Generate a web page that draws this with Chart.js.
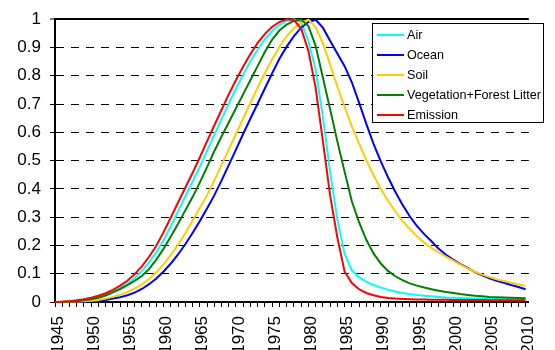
<!DOCTYPE html>
<html>
<head>
<meta charset="utf-8">
<script src="https://cdn.jsdelivr.net/npm/chart.js@4/dist/chart.umd.min.js"></script>
<style>
  html, body { margin: 0; padding: 0; background: #fff; }
  #wrap { position: relative; width: 555px; height: 350px; overflow: hidden; }
  #chart { display: block; }
  #legend {
    position: absolute; left: 372px; top: 23px; width: 172px; height: 100px;
    background: #fff; border: 1px solid #000; box-sizing: border-box;
    font-family: "Liberation Sans", Arial, sans-serif; font-size: 12.6px; color: #000;
  }
  #legend .row { position: absolute; left: 4px; height: 20px; display: flex; align-items: center; white-space: nowrap; }
  #legend .swatch { width: 27px; height: 2px; margin-right: 3px; }
</style>
</head>
<body>
<div id="wrap">
  <canvas id="chart" width="555" height="350"></canvas>
  <div id="legend"></div>
</div>
<script>
// Years 1945–2010, one value per year (normalised, peak = 1)
const years = [];
for (let y = 1945; y <= 2010; y++) years.push(y);

const seriesNames = ['Air', 'Ocean', 'Soil', 'Vegetation+Forest Litter', 'Emission'];
const seriesColors = ['#00FFFF', '#0000FF', '#FFCC00', '#008000', '#FF0000'];

const air = [
  0.000, 0.000, 0.002, 0.004, 0.008, 0.012, 0.018, 0.026, 0.036, 0.049,
  0.065, 0.084, 0.109, 0.140, 0.176, 0.218, 0.268, 0.320, 0.373, 0.425,
  0.478, 0.534, 0.590, 0.646, 0.701, 0.754, 0.804, 0.851, 0.893, 0.929,
  0.958, 0.980, 0.994, 1.000, 0.990, 0.923, 0.822, 0.656, 0.460, 0.292,
  0.170, 0.112, 0.087, 0.072, 0.060, 0.051, 0.043, 0.037, 0.032, 0.028,
  0.025, 0.022, 0.020, 0.018, 0.016, 0.015, 0.014, 0.013, 0.012, 0.012,
  0.011, 0.011, 0.010, 0.010, 0.010, 0.009
];
const ocean = [
  0.000, 0.000, 0.000, 0.001, 0.002, 0.003, 0.004, 0.007, 0.012, 0.017,
  0.024, 0.033, 0.046, 0.063, 0.083, 0.108, 0.136, 0.168, 0.204, 0.244,
  0.286, 0.331, 0.377, 0.429, 0.484, 0.539, 0.595, 0.649, 0.702, 0.756,
  0.809, 0.860, 0.903, 0.940, 0.970, 0.990, 0.998, 0.970, 0.924, 0.879,
  0.834, 0.777, 0.705, 0.630, 0.559, 0.497, 0.441, 0.390, 0.344, 0.303,
  0.268, 0.240, 0.215, 0.188, 0.167, 0.150, 0.134, 0.121, 0.106, 0.094,
  0.084, 0.075, 0.068, 0.060, 0.053, 0.045
];
const soil = [
  0.000, 0.000, 0.001, 0.002, 0.003, 0.004, 0.007, 0.012, 0.018, 0.026,
  0.035, 0.047, 0.062, 0.081, 0.105, 0.133, 0.167, 0.202, 0.243, 0.287,
  0.332, 0.377, 0.429, 0.484, 0.539, 0.594, 0.649, 0.704, 0.759, 0.810,
  0.858, 0.902, 0.940, 0.968, 0.988, 0.998, 0.972, 0.915, 0.840, 0.762,
  0.690, 0.622, 0.560, 0.502, 0.448, 0.400, 0.358, 0.320, 0.287, 0.258,
  0.232, 0.210, 0.191, 0.175, 0.160, 0.146, 0.132, 0.119, 0.107, 0.097,
  0.088, 0.080, 0.074, 0.068, 0.062, 0.057
];
const vegetation = [
  0.000, 0.001, 0.002, 0.003, 0.006, 0.010, 0.015, 0.023, 0.034, 0.046,
  0.060, 0.075, 0.092, 0.117, 0.150, 0.188, 0.232, 0.277, 0.324, 0.371,
  0.422, 0.477, 0.533, 0.585, 0.635, 0.685, 0.735, 0.785, 0.835, 0.885,
  0.928, 0.960, 0.981, 0.994, 0.999, 0.976, 0.906, 0.794, 0.682, 0.568,
  0.461, 0.356, 0.282, 0.220, 0.172, 0.136, 0.110, 0.091, 0.077, 0.066,
  0.058, 0.051, 0.045, 0.040, 0.035, 0.032, 0.028, 0.025, 0.022, 0.020,
  0.018, 0.017, 0.016, 0.015, 0.014, 0.013
];
const emission = [
  0.000, 0.001, 0.003, 0.006, 0.010, 0.015, 0.022, 0.031, 0.043, 0.058,
  0.075, 0.098, 0.126, 0.160, 0.199, 0.247, 0.299, 0.352, 0.404, 0.456,
  0.511, 0.568, 0.624, 0.679, 0.734, 0.785, 0.833, 0.877, 0.916, 0.948,
  0.973, 0.990, 1.000, 0.997, 0.967, 0.888, 0.758, 0.570, 0.378, 0.228,
  0.108, 0.067, 0.045, 0.032, 0.024, 0.018, 0.014, 0.012, 0.011, 0.010,
  0.009, 0.009, 0.008, 0.008, 0.008, 0.007, 0.007, 0.007, 0.007, 0.007,
  0.006, 0.006, 0.006, 0.006, 0.006, 0.006
];
const seriesValues = [air, ocean, soil, vegetation, emission];

// y-axis ticks 0 … 1 in steps of 0.1; year labels every 5 years
const yTicks = [0, 0.1, 0.2, 0.3, 0.4, 0.5, 0.6, 0.7, 0.8, 0.9, 1];
const yearLabelStep = 5;

const FONT = '"Liberation Sans", Arial, sans-serif';

const datasets = seriesNames.map((name, i) => ({
  label: name,
  data: years.map((yr, k) => ({ x: yr, y: seriesValues[i][k] })),
  borderColor: seriesColors[i],
  backgroundColor: seriesColors[i],
  borderWidth: 2,
  pointRadius: 0,
  tension: 0,
  fill: false,
  clip: false,
  order: seriesNames.length - i   // later series drawn on top
}));

const chart = new Chart(document.getElementById('chart'), {
  type: 'line',
  data: { datasets },
  options: {
    responsive: false,
    animation: false,
    devicePixelRatio: 1,
    layout: { padding: { top: 18, right: 3, left: 0, bottom: 0 } },
    plugins: { legend: { display: false }, tooltip: { enabled: false } },
    scales: {
      x: {
        type: 'linear',
        min: 1945,
        max: 2010.45,
        afterBuildTicks: axis => { axis.ticks = years.map(v => ({ value: v })); },
        afterFit: axis => { axis.height = 48; },
        grid: { display: true, drawOnChartArea: false, drawTicks: true, tickLength: 5, tickColor: '#000', tickWidth: 1 },
        border: { display: true, color: '#000', width: 2 },
        ticks: {
          autoSkip: false,
          maxRotation: 90,
          minRotation: 90,
          padding: 9,
          labelOffset: 3,
          color: '#000',
          font: { family: FONT, size: 17 },
          callback: v => (v % yearLabelStep === 0 ? String(v) : '')
        }
      },
      y: {
        min: 0,
        max: 1,
        afterBuildTicks: axis => { axis.ticks = yTicks.map(v => ({ value: v })); },
        afterFit: axis => { axis.width = 55; },
        grid: {
          color: '#000',
          lineWidth: c => (c.tick && c.tick.value === 1 ? 2 : 1),
          drawTicks: true,
          tickLength: 5,
          tickColor: '#000',
          tickWidth: 1
        },
        border: {
          display: true, color: '#000', width: 2,
          dash: c => (c.tick && (c.tick.value === 1 || c.tick.value === 0) ? [] : [8, 7])
        },
        ticks: {
          padding: 9,
          color: '#000',
          font: { family: FONT, size: 17 },
          callback: v => String(Math.round(v * 10) / 10)
        }
      }
    }
  }
});

// Legend box built from the chart's own datasets
const legend = document.getElementById('legend');
chart.data.datasets.forEach((ds, i) => {
  const row = document.createElement('div');
  row.className = 'row';
  row.style.top = (1 + i * 20) + 'px';
  const sw = document.createElement('span');
  sw.className = 'swatch';
  sw.style.background = ds.borderColor;
  const tx = document.createElement('span');
  tx.textContent = ds.label;
  row.appendChild(sw);
  row.appendChild(tx);
  legend.appendChild(row);
});
</script>
</body>
</html>
